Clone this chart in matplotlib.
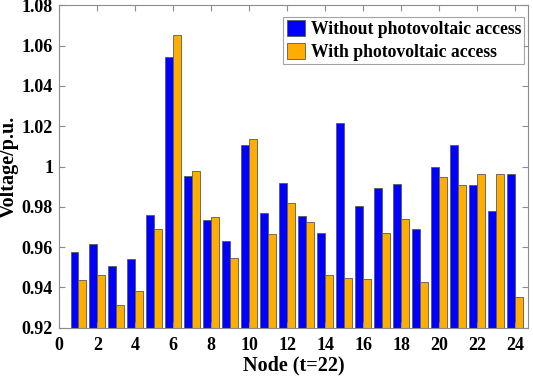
import matplotlib.pyplot as plt
import numpy as np

# Node voltages at t=22 (p.u.)
nodes = np.arange(1, 25)
without_pv = [0.9577, 0.9614, 0.9507, 0.9540, 0.9758, 1.0544, 0.9951, 0.9733,
              0.9629, 1.0109, 0.9768, 0.9918, 0.9755, 0.9672, 1.0218, 0.9805,
              0.9893, 0.9913, 0.9692, 0.9997, 1.0109, 0.9908, 0.9780, 0.9961]
with_pv = [0.9436, 0.9464, 0.9311, 0.9380, 0.9690, 1.0652, 0.9977, 0.9748,
           0.9544, 1.0135, 0.9667, 0.9818, 0.9727, 0.9464, 0.9446, 0.9444,
           0.9670, 0.9737, 0.9426, 0.9949, 0.9908, 0.9962, 0.9962, 0.9350]
x_ticks = list(range(0, 25, 2))
y_ticks = [0.92, 0.94, 0.96, 0.98, 1.0, 1.02, 1.04, 1.06, 1.08]
y_tick_labels = ['0.92', '0.94', '0.96', '0.98', '1', '1.02', '1.04', '1.06', '1.08']

plt.rcParams['font.family'] = ['Liberation Serif', 'DejaVu Serif']
plt.rcParams['font.weight'] = 'bold'

fig = plt.figure(figsize=(5.33, 3.77), dpi=100)
ax = fig.add_axes([59.3 / 533, 1 - 327.7 / 377, (528 - 59.3) / 533, (327.7 - 5.3) / 377])

w = 0.41
edge = '#5a5a5a'
ax.bar(nodes - w / 2, without_pv, width=w, color='#0000ff', edgecolor=edge,
       linewidth=0.6, label='Without photovoltaic access')
ax.bar(nodes + w / 2, with_pv, width=w, color='#ffad00', edgecolor=edge,
       linewidth=0.6, label='With photovoltaic access')

ax.set_xlim(0, 24.68)
ax.set_ylim(0.92, 1.08)
ax.set_xticks(x_ticks)
ax.set_yticks(y_ticks)
ax.set_yticklabels(y_tick_labels)

frame = '#8c8c8c'
for s in ax.spines.values():
    s.set_color(frame)
    s.set_linewidth(0.8)
ax.tick_params(direction='in', top=True, right=True, length=4, width=0.8,
               color=frame, labelsize=13, labelcolor='black')
ax.tick_params(axis='x', pad=7)
ax.tick_params(axis='y', pad=4.5)
for lbl in ax.get_xticklabels() + ax.get_yticklabels():
    lbl.set_fontweight('bold')

ax.set_xlabel('Node (t=22)', fontsize=14.5, fontweight='bold', labelpad=1)
ax.set_ylabel('Voltage/p.u.', fontsize=14.5, fontweight='bold', labelpad=2)

leg = ax.legend(loc='upper right', bbox_to_anchor=(1.0, 0.975), frameon=True,
                fancybox=False, edgecolor=frame, borderpad=0.2, handlelength=1.05,
                handleheight=1.0, handletextpad=0.3, labelspacing=0.25,
                borderaxespad=0.2, prop={'weight': 'bold', 'size': 12.7})
leg.get_frame().set_linewidth(0.8)

plt.savefig('out.png', dpi=100)
plt.close(fig)
